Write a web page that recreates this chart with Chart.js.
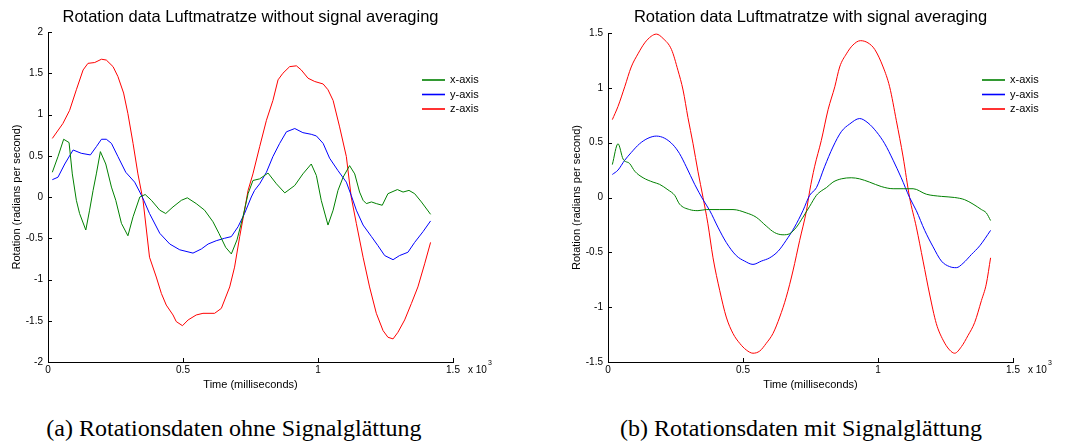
<!DOCTYPE html>
<html>
<head>
<meta charset="utf-8">
<script src="https://cdn.jsdelivr.net/npm/chart.js@4.4.1/dist/chart.umd.min.js"></script>
<style>
body{margin:0;background:#fff;width:1080px;height:447px;position:relative;overflow:hidden}
canvas{position:absolute;top:0}
#graficoEsq{left:0}
#graficoDir{left:540px}
.legenda{position:absolute;top:416px;width:500px;margin-left:-250px;text-align:center;font-family:"Liberation Serif",serif;font-size:24px;line-height:24px;color:#000;white-space:nowrap}
</style>
</head>
<body>
<canvas id="graficoEsq" width="540" height="400"></canvas>
<canvas id="graficoDir" width="540" height="400"></canvas>
<div class="legenda" style="left:234px">(a) Rotationsdaten ohne Signalglättung</div>
<div class="legenda" style="left:801px">(b) Rotationsdaten mit Signalglättung</div>
<script>
// eixos / ticks
const ticksTempo = [0, 500, 1000, 1500]
const ticksEsqY = [-2, -1.5, -1, -0.5, 0, 0.5, 1, 1.5, 2]
const ticksDirY = [-1.5, -1, -0.5, 0, 0.5, 1, 1.5]
const nomesSeries = ['x-axis', 'y-axis', 'z-axis']

// esquerda: sem signal averaging
const esqTempoX = [16,37,58,78,90,105,117,140,154,167,179,194,214,235,251,272,296,315,340,360,383,414,436,463,494,516,549,580,611,633,658,679,700,722,741,759,784,815,846,877,914,944,975,994,1012,1037,1056,1074,1093,1117,1136,1154,1167,1179,1198,1216,1238,1259,1294,1315,1337,1358,1383,1417]
const esqRotX = [0.30,0.49,0.70,0.66,0.28,-0.04,-0.20,-0.40,-0.16,0.08,0.28,0.55,0.40,0.12,-0.04,-0.32,-0.47,-0.24,0.00,0.03,-0.04,-0.16,-0.20,-0.12,-0.04,-0.01,-0.08,-0.16,-0.30,-0.44,-0.61,-0.69,-0.52,-0.24,0.04,0.20,0.22,0.29,0.16,0.05,0.14,0.28,0.40,0.26,-0.04,-0.34,-0.16,0.08,0.24,0.38,0.28,0.06,-0.04,-0.08,-0.06,-0.08,-0.10,0.04,0.09,0.06,0.08,0.04,-0.06,-0.21]
const esqTempoY = [16,37,62,93,123,157,179,198,216,235,259,288,321,340,352,376,414,451,488,537,568,593,623,654,679,704,728,753,765,784,809,833,858,883,914,944,975,994,1019,1043,1074,1105,1123,1142,1167,1198,1222,1247,1278,1302,1333,1358,1389,1417]
const esqRotY = [0.21,0.24,0.40,0.57,0.53,0.51,0.61,0.70,0.70,0.65,0.49,0.30,0.18,0.06,-0.02,-0.20,-0.44,-0.57,-0.64,-0.68,-0.63,-0.57,-0.53,-0.50,-0.48,-0.36,-0.20,0.00,0.08,0.16,0.30,0.49,0.65,0.79,0.83,0.78,0.76,0.74,0.65,0.47,0.32,0.18,0.02,-0.16,-0.34,-0.48,-0.59,-0.71,-0.76,-0.71,-0.67,-0.55,-0.42,-0.29]
const esqTempoZ = [16,55,80,105,130,148,173,198,216,241,259,280,296,315,333,352,376,401,420,438,463,475,498,519,549,574,617,642,673,691,710,728,741,759,784,809,833,852,870,895,920,938,963,988,1019,1037,1056,1080,1105,1123,1142,1167,1191,1216,1241,1259,1278,1296,1321,1346,1370,1395,1417]
const esqRotZ = [0.71,0.89,1.05,1.30,1.54,1.62,1.63,1.67,1.66,1.58,1.46,1.26,1.01,0.65,0.28,-0.04,-0.73,-0.97,-1.17,-1.31,-1.43,-1.51,-1.56,-1.49,-1.43,-1.41,-1.41,-1.35,-1.09,-0.85,-0.48,-0.16,0.08,0.28,0.61,0.93,1.17,1.42,1.50,1.58,1.59,1.54,1.44,1.40,1.37,1.30,1.17,0.85,0.49,0.00,-0.32,-0.73,-1.09,-1.41,-1.62,-1.70,-1.72,-1.64,-1.49,-1.29,-1.09,-0.81,-0.55]

// direita: com signal averaging
const dirTempoX = [16,37,56,80,99,130,167,191,222,247,265,302,333,364,414,463,512,549,586,617,648,673,698,722,747,772,790,809,833,864,901,932,969,1012,1056,1093,1130,1179,1235,1284,1321,1352,1383,1401,1417]
const dirRotX = [0.30,0.49,0.35,0.31,0.24,0.18,0.14,0.12,0.07,0.02,-0.06,-0.11,-0.12,-0.11,-0.11,-0.11,-0.14,-0.18,-0.26,-0.32,-0.34,-0.33,-0.27,-0.18,-0.08,0.02,0.06,0.09,0.14,0.17,0.18,0.17,0.14,0.10,0.08,0.08,0.08,0.03,0.01,0.00,-0.02,-0.06,-0.11,-0.14,-0.21]
const dirTempoY = [16,37,62,86,117,148,179,210,241,265,290,321,352,377,407,438,475,506,537,568,599,630,660,691,722,747,772,802,833,864,895,932,963,994,1025,1056,1086,1117,1142,1173,1204,1235,1265,1290,1315,1346,1377,1417]
const dirRotY = [0.21,0.25,0.34,0.41,0.49,0.54,0.56,0.54,0.48,0.40,0.28,0.12,-0.02,-0.12,-0.27,-0.41,-0.53,-0.58,-0.61,-0.58,-0.55,-0.49,-0.39,-0.27,-0.12,0.02,0.09,0.28,0.46,0.60,0.67,0.72,0.68,0.60,0.49,0.34,0.18,0.00,-0.12,-0.30,-0.45,-0.58,-0.63,-0.64,-0.60,-0.52,-0.44,-0.30]
const dirTempoZ = [16,37,62,86,111,136,160,179,204,235,259,278,296,315,333,352,370,389,414,438,463,488,512,537,562,586,611,636,660,685,710,735,747,765,790,815,840,858,883,907,935,963,988,1019,1043,1068,1093,1117,1142,1167,1191,1216,1241,1265,1284,1309,1333,1358,1383,1401,1417]
const dirRotZ = [0.71,0.83,1.01,1.19,1.31,1.41,1.47,1.49,1.45,1.35,1.16,0.98,0.73,0.49,0.24,0.00,-0.24,-0.55,-0.85,-1.09,-1.24,-1.33,-1.39,-1.42,-1.40,-1.33,-1.24,-1.09,-0.91,-0.67,-0.39,-0.12,0.06,0.28,0.52,0.80,1.01,1.19,1.31,1.39,1.43,1.41,1.35,1.19,1.01,0.70,0.37,0.00,-0.27,-0.58,-0.88,-1.15,-1.30,-1.39,-1.42,-1.36,-1.26,-1.14,-0.94,-0.79,-0.55]

const cores = ['#008000', '#0000ff', '#ff0000']
const fonte = '"Liberation Sans", Arial, sans-serif'
const pontos = (tempos, valores) => tempos.map((t, i) => ({x: t, y: valores[i]}))

// titulo, legenda, ticks para dentro e "x 10^3"
const decoracao = {
	id: 'decoracao',
	afterDraw(chart, args, opts) {
		const ctx = chart.ctx
		const area = chart.chartArea
		const sx = chart.scales.x
		const sy = chart.scales.y
		ctx.save()
		ctx.strokeStyle = '#000'
		ctx.lineWidth = 1
		ctx.beginPath()
		sx.ticks.forEach(t => {
			const px = Math.round(sx.getPixelForValue(t.value)) + 0.5
			ctx.moveTo(px, area.bottom)
			ctx.lineTo(px, area.bottom - 4)
		})
		sy.ticks.forEach(t => {
			const py = Math.round(sy.getPixelForValue(t.value)) + 0.5
			ctx.moveTo(area.left, py)
			ctx.lineTo(area.left + 4, py)
		})
		ctx.stroke()

		ctx.fillStyle = '#000'
		ctx.textBaseline = 'middle'
		ctx.textAlign = 'center'
		ctx.font = '16.5px ' + fonte
		ctx.fillText(opts.titulo, (area.left + area.right) / 2, 17)

		ctx.textAlign = 'left'
		ctx.font = '10px ' + fonte
		const base = 'x 10'
		const xb = area.right + 15
		ctx.fillText(base, xb, area.bottom + 8)
		const w = ctx.measureText(base).width
		ctx.font = '7px ' + fonte
		ctx.fillText('3', xb + w + 1, area.bottom + 1)

		ctx.font = '11px ' + fonte
		chart.data.datasets.forEach((ds, i) => {
			const ly = 80 + i * 14.5
			ctx.strokeStyle = ds.borderColor
			ctx.lineWidth = 1.6
			ctx.beginPath()
			ctx.moveTo(area.right - 31, ly)
			ctx.lineTo(area.right - 8, ly)
			ctx.stroke()
			ctx.fillText(ds.label, area.right - 3, ly)
		})
		ctx.restore()
	}
}

function criarGrafico(id, titulo, series, ticksY, larguraY, padTituloY, padDireita, padTopo, suave) {
	return new Chart(document.getElementById(id), {
		type: 'line',
		data: {
			datasets: series.map((s, i) => ({
				label: nomesSeries[i],
				data: s,
				borderColor: cores[i],
				borderWidth: 1,
				pointRadius: 0,
				tension: 0,
				cubicInterpolationMode: suave ? 'monotone' : 'default',
				fill: false
			}))
		},
		options: {
			responsive: false,
			animation: false,
			layout: { padding: { left: 0, right: padDireita, top: padTopo, bottom: 0 } },
			plugins: {
				legend: { display: false },
				title: { display: false },
				tooltip: { enabled: false },
				decoracao: { titulo: titulo }
			},
			scales: {
				x: {
					type: 'linear',
					min: ticksTempo[0],
					max: ticksTempo[ticksTempo.length - 1],
					afterBuildTicks: s => { s.ticks = ticksTempo.map(v => ({ value: v })) },
					afterFit: s => { s.height = 38 },
					ticks: { color: '#000', font: { family: fonte, size: 10 }, padding: 2, maxRotation: 0, callback: v => String(v / 1000) },
					grid: { display: false, drawTicks: false },
					border: { display: true, color: '#000', width: 1 },
					title: { display: true, text: 'Time (milliseconds)', color: '#000', font: { family: fonte, size: 11 }, padding: { top: 0, bottom: 8 } }
				},
				y: {
					min: ticksY[0],
					max: ticksY[ticksY.length - 1],
					afterBuildTicks: s => { s.ticks = ticksY.map(v => ({ value: v })) },
					afterFit: s => { s.width = larguraY },
					ticks: { color: '#000', font: { family: fonte, size: 10 }, padding: 5, callback: v => String(v) },
					grid: { display: false, drawTicks: false },
					border: { display: true, color: '#000', width: 1 },
					title: { display: true, text: 'Rotation (radians per second)', color: '#000', font: { family: fonte, size: 11 }, padding: { top: padTituloY, bottom: 0 } }
				}
			}
		},
		plugins: [decoracao]
	})
}

criarGrafico('graficoEsq', 'Rotation data Luftmatratze without signal averaging',
	[pontos(esqTempoX, esqRotX), pontos(esqTempoY, esqRotY), pontos(esqTempoZ, esqRotZ)],
	ticksEsqY, 48, 10, 87, 32, false)

criarGrafico('graficoDir', 'Rotation data Luftmatratze with signal averaging',
	[pontos(dirTempoX, dirRotX), pontos(dirTempoY, dirRotY), pontos(dirTempoZ, dirRotZ)],
	ticksDirY, 68, 30, 67, 33, true)
</script>
</body>
</html>
